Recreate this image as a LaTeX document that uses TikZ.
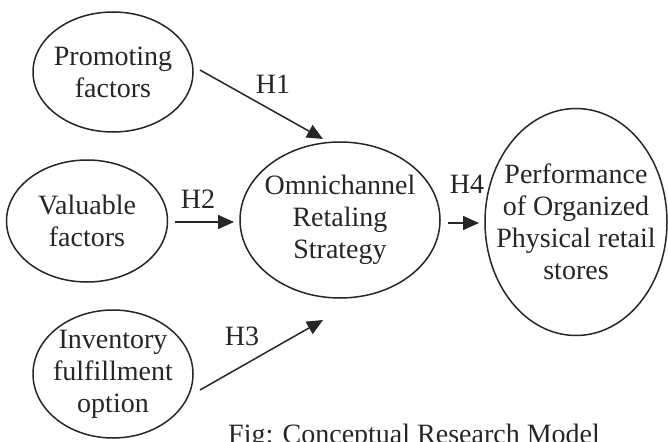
\documentclass[tikz,border=0pt]{standalone}
\usepackage{fontspec}
\setmainfont{Liberation Serif}
\usetikzlibrary{shapes.geometric,arrows.meta}
\definecolor{ink}{HTML}{262626}
\begin{document}
\begin{tikzpicture}[x=1pt,y=-1pt,
  bub/.style={ellipse,draw=ink,line width=1.5pt,inner sep=-45pt,align=center,
    text=ink,font=\fontsize{28}{32}\selectfont},
  lab/.style={text=ink,font=\fontsize{28}{32}\selectfont,inner sep=0pt,anchor=base},
  arr/.style={draw=ink,line width=1.5pt,-{Triangle[length=16pt,width=14pt]}}]
\useasboundingbox[fill=white] (0,0) rectangle (668,441);
\node[bub,minimum width=160pt,minimum height=120pt] (pf) at (113,72) {Promoting\\factors};
\node[bub,minimum width=161pt,minimum height=122pt] (vf) at (87,221) {Valuable\\factors};
\node[bub,minimum width=160pt,minimum height=128pt] (inv) at (113,374) {Inventory\\fulfillment\\option};
\node[bub,minimum width=200pt,minimum height=156pt] (om) at (340,220) {Omnichannel\\Retaling\\Strategy};
\node[bub,minimum width=182pt,minimum height=227pt] (perf) at (576,222) {Performance\\of Organized\\Physical retail\\stores};
\coordinate (h1s) at (200,70);  \coordinate (h1e) at (323,139);
\coordinate (h2s) at (175,222); \coordinate (h2e) at (234,222);
\coordinate (h3s) at (200,390); \coordinate (h3e) at (323,320);
\coordinate (h4s) at (448,223); \coordinate (h4e) at (479,223);
\draw[arr] (h1s) -- (h1e);
\draw[arr] (h2s) -- (h2e);
\draw[arr] (h3s) -- (h3e);
\draw[arr] (h4s) -- (h4e);
\node[lab] (l1) at (273,94) {H1};
\node[lab] (l2) at (198,208) {H2};
\node[lab] (l3) at (242,345) {H3};
\node[lab] (l4) at (467,193) {H4};
\node[lab,anchor=base west] (cap) at (228,443) {Fig: Conceptual Research Model};
\end{tikzpicture}
\end{document}
